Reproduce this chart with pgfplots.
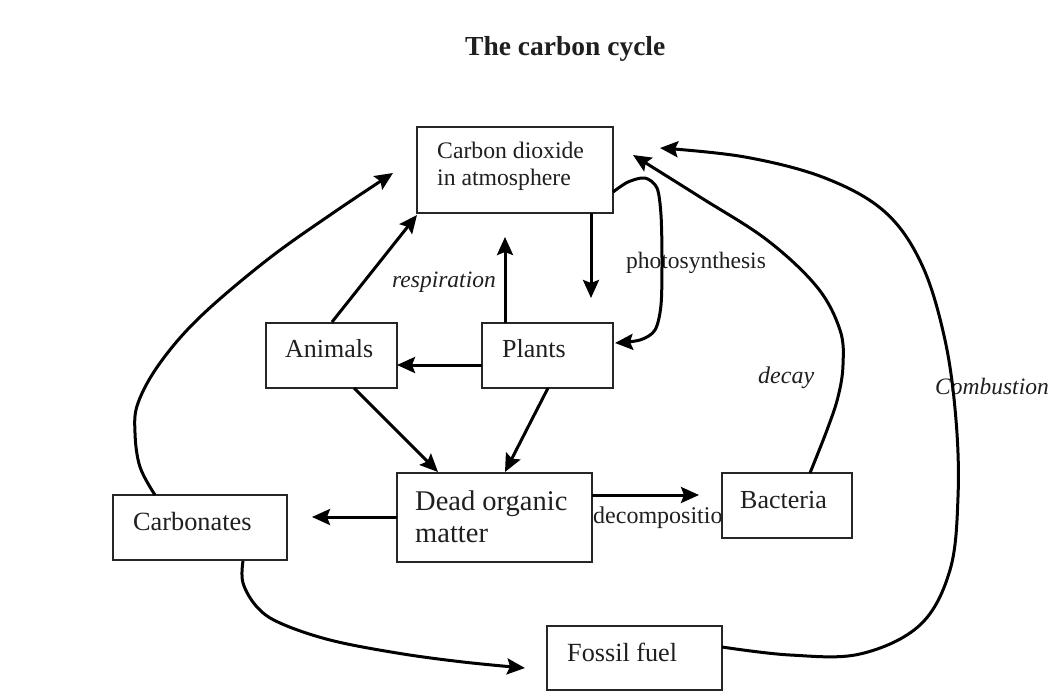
\documentclass[border=0pt]{standalone}
\usepackage{fontspec}
\setmainfont{Liberation Serif}
\usepackage{pgfplots}
\pgfplotsset{compat=1.18}
\usetikzlibrary{arrows.meta}
\definecolor{ink}{gray}{0.12}
\begin{document}
\begin{tikzpicture}[
  arr/.style={line width=3pt,draw=black,-{Stealth[length=18pt,width=16pt,inset=3pt]}},
  bx/.style={line width=1.9pt,draw=black!85,fill=white},
  lbl/.style={anchor=base west,inner sep=0pt,text=ink}]
\begin{axis}[width=1063pt,height=696pt,scale only axis,
  xmin=0,xmax=1063,ymin=0,ymax=696,y dir=reverse,
  axis lines=none,clip=false]
% invisible frame for bounding box
\path (axis cs:0,0) rectangle (axis cs:1063,696);
% title
\node[lbl] at (axis cs:465,55) {\fontsize{27.5}{30}\selectfont\bfseries The carbon cycle};
% labels that are overlapped
\node[lbl] at (axis cs:593,523) {\fontsize{24}{28}\selectfont decomposition};
\node[lbl] at (axis cs:626,268) {\fontsize{23.5}{28}\selectfont photosynthesis};
\node[lbl] at (axis cs:935,394) {\fontsize{23.5}{28}\selectfont\itshape Combustion};
\node[lbl] at (axis cs:392,287) {\fontsize{23.5}{28}\selectfont\itshape respiration};
\node[lbl] at (axis cs:758,383) {\fontsize{24}{28}\selectfont\itshape decay};
% boxes
\draw[bx] (axis cs:417,127) rectangle (axis cs:613,213);
\draw[bx] (axis cs:266,323) rectangle (axis cs:397,388);
\draw[bx] (axis cs:482,323) rectangle (axis cs:613,388);
\draw[bx,fill=none] (axis cs:397,473) rectangle (axis cs:592,562);
\draw[bx] (axis cs:722,473) rectangle (axis cs:852,538);
\draw[bx] (axis cs:113,495) rectangle (axis cs:287,560);
\draw[bx] (axis cs:547,626) rectangle (axis cs:722,690);
% box texts
\node[lbl] at (axis cs:437,158) {\fontsize{23.7}{28}\selectfont Carbon dioxide};
\node[lbl] at (axis cs:437,185) {\fontsize{23.7}{28}\selectfont in atmosphere};
\node[lbl] at (axis cs:285,357) {\fontsize{26}{30}\selectfont Animals};
\node[lbl] at (axis cs:502,357) {\fontsize{26}{30}\selectfont Plants};
\node[lbl] at (axis cs:415,510) {\fontsize{28.5}{32}\selectfont Dead organic};
\node[lbl] at (axis cs:415,542) {\fontsize{28.5}{32}\selectfont matter};
\node[lbl] at (axis cs:740,508) {\fontsize{26}{30}\selectfont Bacteria};
\node[lbl] at (axis cs:133,530) {\fontsize{26.3}{30}\selectfont Carbonates};
\node[lbl] at (axis cs:567,661) {\fontsize{26.2}{30}\selectfont Fossil fuel};
% straight arrows
\addplot[arr] coordinates {(482,365) (397,365)};
\addplot[arr] coordinates {(354,388) (438,472)};
\addplot[arr] coordinates {(548,388) (505,472)};
\addplot[arr] coordinates {(397,517) (312,517)};
\addplot[arr] coordinates {(592,495) (699,495)};
\addplot[arr] coordinates {(591,213) (591,298)};
\addplot[arr] coordinates {(505,323) (505,237)};
\addplot[arr] coordinates {(332,322) (417,215)};
% photosynthesis loop
\addplot[arr,smooth,tension=0.5] coordinates {(613,192) (628,182) (645,178) (657,188) (661,215) (662,260) (661,305) (655,330) (640,340) (615,343)};
% decay
\addplot[arr,smooth,tension=0.6] coordinates {(810,473) (827,430) (838,397) (843,365) (840,330) (817,287) (767,240) (700,197) (633,155)};
% combustion
\addplot[arr,smooth,tension=0.6] coordinates {(722,647) (790,655) (860,654) (920,625) (950,570) (958,497) (956,420) (945,340) (922,265) (885,212) (825,178) (745,157) (660,148)};
% carbonates to CO2
\addplot[arr,smooth,tension=0.6] coordinates {(155,495) (140,467) (135,433) (138,403) (160,363) (200,317) (267,260) (333,213) (393,173)};
% carbonates to fossil fuel
\addplot[arr,smooth,tension=0.6] coordinates {(243,561) (243,583) (257,607) (280,623) (330,640) (397,653) (463,662) (525,668)};
\end{axis}
\end{tikzpicture}
\end{document}
